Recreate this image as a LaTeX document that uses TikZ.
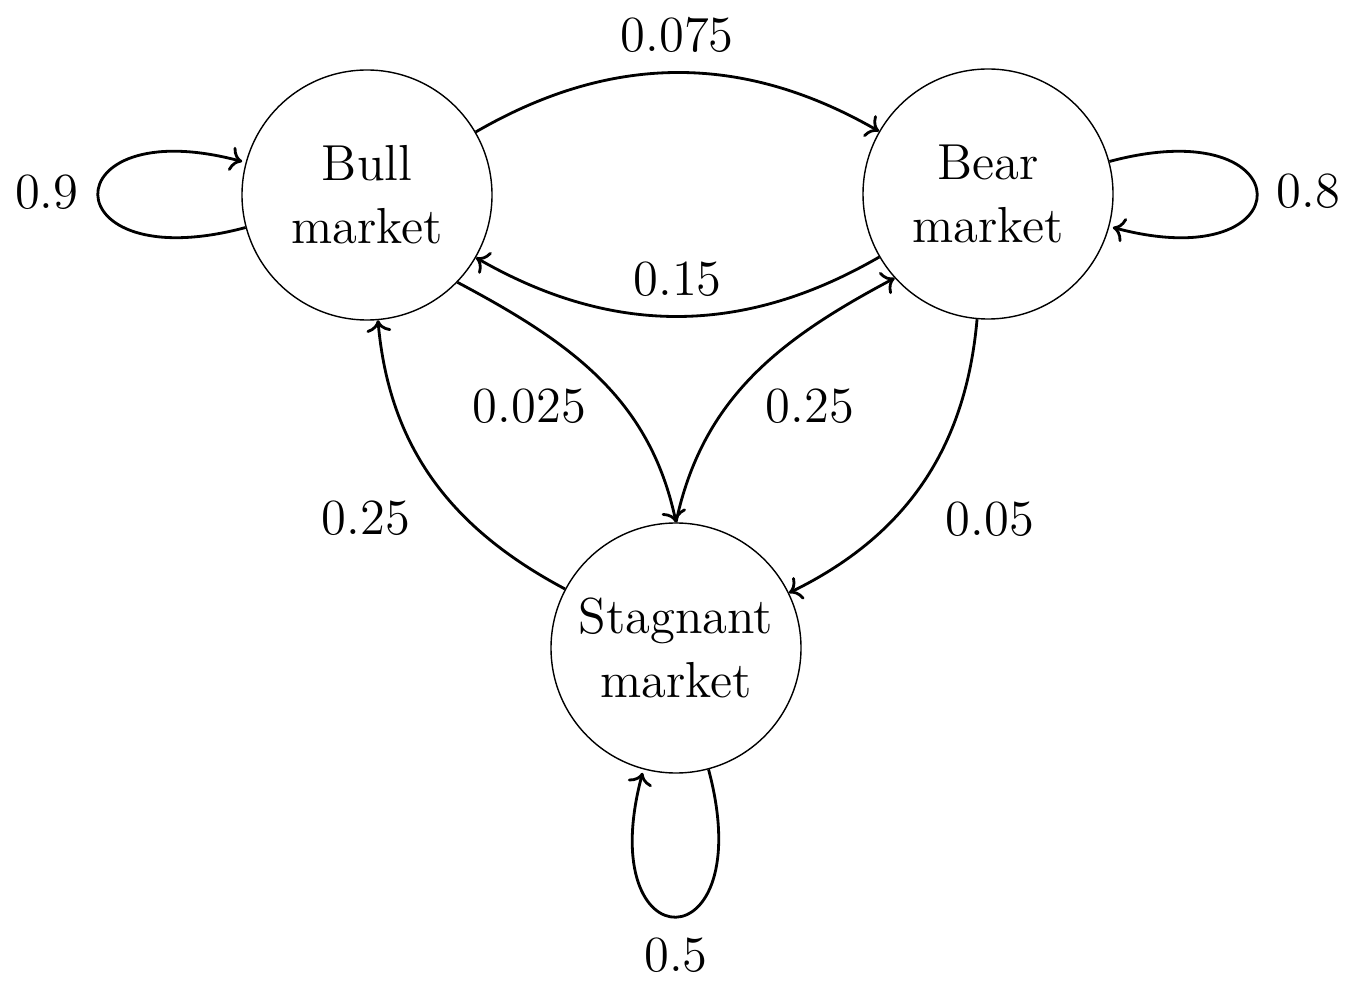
\documentclass[tikz,border=0pt]{standalone}
\usepackage{tikz}
\usetikzlibrary{arrows.meta, positioning}

\begin{document}
\begin{tikzpicture}[font=\Large,
    zustand/.style={circle, draw, thin, minimum size=2.5cm, inner sep=0pt, align=center},
    uebergang/.style={->, thick}]
  \useasboundingbox (0,0) rectangle (13.63,-9.88);

  % Zustaende (Markt)
  \node[zustand] (Bull) at (3.67,-1.95) {Bull\\market};
  \node[zustand] (Bear) at (9.88,-1.94) {Bear\\market};
  \node[zustand] (Stag) at (6.76,-6.48) {Stagnant\\market};

  % Uebergaenge
  \path[uebergang]
    (Bull) edge[loop left] node[left, xshift=-0.7mm, yshift=0.3mm] {0.9} ()
    (Bull) edge[bend left=30] node[above, yshift=0.7mm] {0.075} (Bear)
    (Bull.-44) edge[out=-28, in=102] node[left, yshift=-2.8mm] {0.025} (Stag.north)
    (Bear) edge[loop right] node[right, xshift=0.7mm, yshift=0.3mm] {0.8} ()
    (Bear) edge[bend left=30] node[above, yshift=0.7mm] {0.15} (Bull)
    (Bear) edge[out=-95, in=26] node[below right, xshift=1mm, yshift=-0.5mm] {0.05} (Stag)
    (Stag) edge[loop below] node[below, yshift=-0.8mm] {0.5} ()
    (Stag.north) edge[out=78, in=208] node[right, yshift=-3mm] {0.25} (Bear.222)
    (Stag) edge[out=152, in=-85] node[below left, xshift=-1mm, yshift=-0.8mm] {0.25} (Bull);
\end{tikzpicture}
\end{document}
